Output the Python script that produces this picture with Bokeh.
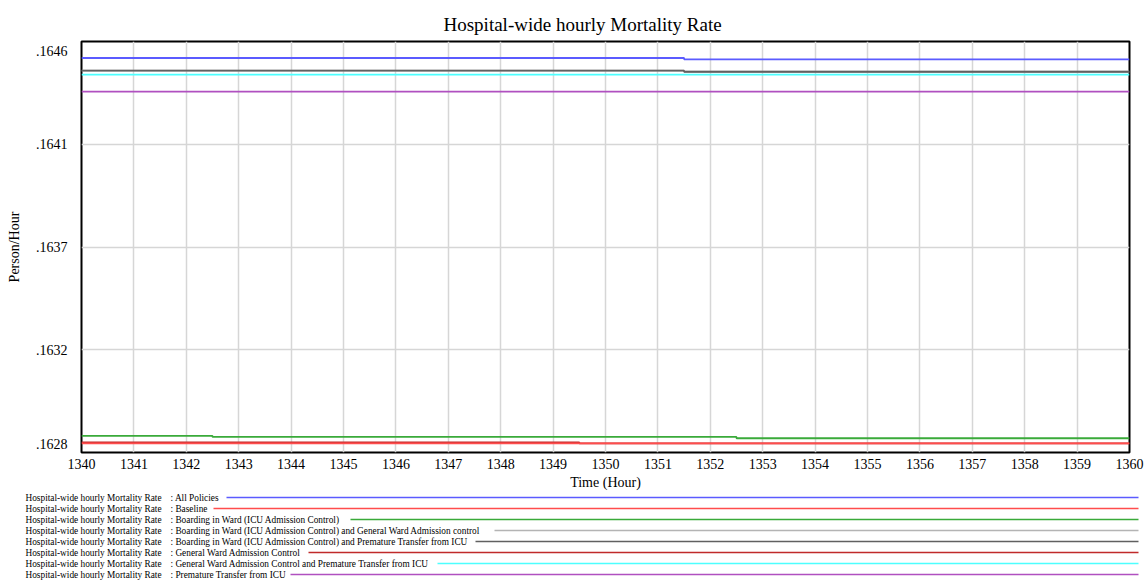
from bokeh.plotting import figure
from bokeh.models import Range1d, FixedTicker, CustomJSTickFormatter
from bokeh.layouts import column
from bokeh.core.properties import value
from bokeh.embed import file_html
from bokeh.resources import INLINE

# ---------------- data ----------------
hours = list(range(1340, 1361))
x_tick_labels = [str(h) for h in hours]

y_tick_values = [0.16278, 0.163235, 0.16369, 0.164145, 0.16460]
y_tick_labels = [".1628", ".1632", ".1637", ".1641", ".1646"]

all_policies = [0.164527] * 12 + [0.164521] * 9
baseline = [0.162820] * 21
boarding_icu = [0.162854] * 3 + [0.162849] * 10 + [0.162843] * 8
boarding_gw = [0.164471] * 12 + [0.164466] * 9
boarding_premature = [0.164471] * 12 + [0.164466] * 9
gw_control = [0.162825] * 10 + [0.162820] * 11
gw_premature = [0.164453] * 21
premature = [0.164378] * 21

series_names = [
    "All Policies",
    "Baseline",
    "Boarding in Ward (ICU Admission Control)",
    "Boarding in Ward (ICU Admission Control) and General Ward Admission control",
    "Boarding in Ward (ICU Admission Control) and Premature Transfer from ICU",
    "General Ward Admission Control",
    "General Ward Admission Control and Premature Transfer from ICU",
    "Premature Transfer from ICU",
]
series_values = [all_policies, baseline, boarding_icu, boarding_gw,
                 boarding_premature, gw_control, gw_premature, premature]
series_colors = ["#5b5bff", "#ff4d4d", "#3aaa3a", "#b4b4b4",
                 "#606060", "#c02a2a", "#4dffff", "#b050c0"]
# draw order (later = on top)
draw_order = [0, 5, 1, 2, 3, 4, 6, 7]

# legend layout (pixel starts of legend sample lines)
legend_line_start = [226, 213, 350, 494, 475, 308, 437, 290]

SERIF = "Liberation Serif"

# ---------------- main plot ----------------
W, H1 = 1148, 492
top_b, bot_b, left_b, right_b = 41, 40, 81, 19
frame_h = H1 - top_b - bot_b

p = figure(width=W, height=H1, output_backend="svg", toolbar_location=None,
           x_range=Range1d(1340, 1360),
           y_range=Range1d(y_tick_values[0], y_tick_values[-1]),
           min_border_top=top_b, min_border_bottom=bot_b,
           min_border_left=left_b, min_border_right=right_b,
           frame_align=False,
           title="Hospital-wide hourly Mortality Rate")

p.title.text_font = SERIF
p.title.text_font_size = "19px"
p.title.text_font_style = "normal"
p.title.align = "left"
p.title.offset = 362
p.title.standoff = 10
p.title.vertical_align = "top"
p.title.text_color = "#000000"

for i in draw_order:
    p.step(hours, series_values[i], mode="center",
           line_color=series_colors[i], line_width=1.8)

# axes
p.xaxis.ticker = FixedTicker(ticks=hours)
p.xaxis.formatter = CustomJSTickFormatter(args=dict(labels=x_tick_labels),
                                          code="return labels[index];")
p.xaxis.axis_label = "Time (Hour)"

px = (y_tick_values[-1] - y_tick_values[0]) / frame_h
label_pos = list(y_tick_values)
label_pos[0] = y_tick_values[0] + 9 * px
label_pos[-1] = y_tick_values[-1] - 9.5 * px
p.yaxis.ticker = FixedTicker(ticks=label_pos)
p.yaxis.formatter = CustomJSTickFormatter(args=dict(labels=y_tick_labels),
                                          code="return labels[index];")
p.yaxis.axis_label = "Person/Hour"

for ax in (p.xaxis[0], p.yaxis[0]):
    ax.axis_line_color = None
    ax.major_tick_line_color = None
    ax.minor_tick_line_color = None
    ax.major_label_text_font = SERIF
    ax.major_label_text_font_size = "14px"
    ax.major_label_text_color = "#000000"
    ax.axis_label_text_font = SERIF
    ax.axis_label_text_font_style = "normal"
    ax.axis_label_text_color = "#000000"

p.xaxis.major_label_standoff = 0
p.xaxis.axis_label_standoff = 3
p.xaxis.axis_label_text_font_size = "14px"
p.yaxis.major_label_standoff = 8
p.yaxis.axis_label_standoff = 11
p.yaxis.axis_label_text_font_size = "14px"

p.xgrid.ticker = FixedTicker(ticks=hours)
p.ygrid.ticker = FixedTicker(ticks=y_tick_values[1:-1])
for g in (p.xgrid[0], p.ygrid[0]):
    g.grid_line_color = "#d6d6d6"
    g.grid_line_width = 1.5

p.outline_line_color = "#000000"
p.outline_line_width = 2
p.background_fill_color = "#ffffff"
p.border_fill_color = "#ffffff"

# ---------------- legend strip ----------------
H2 = 580 - H1
lg = figure(width=W, height=H2, output_backend="svg", toolbar_location=None,
            x_range=Range1d(0, W), y_range=Range1d(H2, 0),
            min_border=0, min_border_left=0, min_border_right=0,
            min_border_top=0, min_border_bottom=0,
            frame_align=False)
lg.axis.visible = False
lg.grid.visible = False
lg.outline_line_color = None
lg.background_fill_color = "#ffffff"
lg.border_fill_color = "#ffffff"

n = len(series_names)
rows_y = [5 + 11.0 * i for i in range(n)]
lg.text(x=[25] * n, y=rows_y,
        text=["Hospital-wide hourly Mortality Rate"] * n,
        text_font=value(SERIF), text_font_size="9.3px",
        text_baseline="middle", text_color="#000000")
lg.text(x=[170] * n, y=rows_y,
        text=[": " + s for s in series_names],
        text_font=value(SERIF), text_font_size="9.3px",
        text_baseline="middle", text_color="#000000")
lg.segment(x0=legend_line_start, y0=rows_y,
           x1=[1138] * n, y1=rows_y,
           line_color=series_colors, line_width=1.4)

layout = column(p, lg, spacing=0)
open("out.html", "w").write(file_html(layout, INLINE))
